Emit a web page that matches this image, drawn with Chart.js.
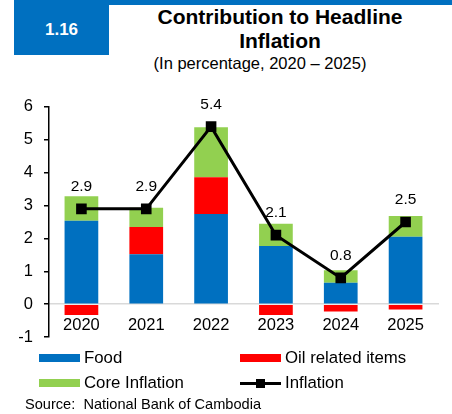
<!DOCTYPE html>
<html>
<head>
<meta charset="utf-8">
<script src="https://cdn.jsdelivr.net/npm/chart.js@4.4.1/dist/chart.umd.min.js"></script>
<style>
  html, body { margin: 0; padding: 0; background: #fff; }
  body { width: 452px; height: 414px; position: relative; overflow: hidden; font-family: "Liberation Sans", Arial, sans-serif; color: #000; }
  .top-stripe { position: absolute; left: 14px; top: 0; width: 438px; height: 5px; background: #0070C0; }
  .fig-no { position: absolute; left: 14px; top: 5px; width: 95px; height: 50px; background: #0070C0; color: #fff;
            font-weight: bold; font-size: 17px; display: flex; align-items: center; justify-content: center; }
  .title { position: absolute; left: 110px; width: 340px; top: 5px; text-align: center; font-weight: bold; font-size: 21px; line-height: 24px; }
  .subtitle { position: absolute; left: 60px; width: 400px; top: 54px; text-align: center; font-size: 16.5px; }
  .chart-wrap { position: absolute; left: 0; top: 86px; width: 452px; height: 272px; }
  .legend { position: absolute; left: 0; top: 347px; width: 452px; font-size: 16.8px; }
  .item { position: absolute; height: 20px; display: flex; align-items: center; }
  .sw { width: 41px; height: 8px; margin-right: 4px; }
  .ln { width: 41px; height: 20px; margin-right: 4px; position: relative; }
  .ln::before { content: ""; position: absolute; left: 0; right: 0; top: 9px; height: 3px; background: #000; }
  .ln::after { content: ""; position: absolute; left: 16px; top: 6px; width: 9px; height: 9px; background: #000; }
  .source { position: absolute; left: 25px; top: 396px; font-size: 14.6px; white-space: pre; }
</style>
</head>
<body>
<div class="top-stripe"></div>
<div class="fig-no">1.16</div>
<div class="title">Contribution to Headline<br>Inflation</div>
<div class="subtitle">(In percentage, 2020 – 2025)</div>
<div class="chart-wrap"><canvas id="chart"></canvas></div>
<div class="legend">
  <div class="item" style="left:39px; top:1px;"><span class="sw" style="background:#0070C0"></span>Food</div>
  <div class="item" style="left:240px; top:1px;"><span class="sw" style="background:#FF0000"></span>Oil related items</div>
  <div class="item" style="left:39px; top:26px;"><span class="sw" style="background:#92D050"></span>Core Inflation</div>
  <div class="item" style="left:240px; top:26px;"><span class="ln"></span>Inflation</div>
</div>
<div class="source">Source:  National Bank of Cambodia</div>

<script>
const years = ['2020', '2021', '2022', '2023', '2024', '2025'];
const food = [2.54, 1.52, 2.74, 1.77, 0.65, 2.05];
const oil = [-0.33, 0.83, 1.12, -0.33, -0.22, -0.16];
const core = [0.74, 0.58, 1.52, 0.68, 0.38, 0.63];
const inflation = [2.9, 2.9, 5.4, 2.1, 0.8, 2.5];
const yTicks = [-1, 0, 1, 2, 3, 4, 5, 6];

// value labels above the inflation markers
const pointLabels = {
  id: 'pointLabels',
  afterDatasetsDraw(chart) {
    const meta = chart.getDatasetMeta(0);
    const ctx = chart.ctx;
    ctx.save();
    ctx.font = '15.5px "Liberation Sans", Arial, sans-serif';
    ctx.fillStyle = '#000';
    ctx.textAlign = 'center';
    ctx.textBaseline = 'middle';
    meta.data.forEach((pt, i) => {
      ctx.fillText(inflation[i].toFixed(1), pt.x, pt.y - 22);
    });
    ctx.restore();
  }
};

const barOpts = { stack: 'parts', order: 1, barPercentage: 0.52, categoryPercentage: 1, borderWidth: 0 };

new Chart(document.getElementById('chart'), {
  type: 'bar',
  data: {
    labels: years,
    datasets: [
      { type: 'line', label: 'Inflation', data: inflation, stack: 'total', order: 0,
        borderColor: '#000', backgroundColor: '#000', borderWidth: 3,
        pointStyle: 'rect', pointRadius: 7.5, pointBackgroundColor: '#000', pointBorderWidth: 0, tension: 0 },
      { label: 'Food', data: food, backgroundColor: '#0070C0', ...barOpts },
      { label: 'Oil related items', data: oil, backgroundColor: '#FF0000', ...barOpts },
      { label: 'Core Inflation', data: core, backgroundColor: '#92D050', ...barOpts },
    ],
  },
  options: {
    animation: false, responsive: true, maintainAspectRatio: false,
    layout: { padding: { top: 7, right: 14, bottom: 7, left: 0 } },
    plugins: { legend: { display: false }, tooltip: { enabled: false } },
    scales: {
      x: {
        position: { y: 0 },
        stacked: true,
        grid: { display: false },
        border: { color: '#d9d9d9', width: 1.5 },
        ticks: { color: '#000', font: { size: 16.5, family: '"Liberation Sans", Arial, sans-serif' }, padding: 3 },
      },
      y: {
        stacked: true,
        min: -1, max: 6,
        afterBuildTicks: scale => { scale.ticks = yTicks.map(v => ({ value: v })); },
        afterFit: scale => { scale.width = 49; },
        grid: { drawOnChartArea: false, drawTicks: true, tickLength: 5, color: '#000', lineWidth: 1.5 },
        border: { color: '#000', width: 1.5 },
        ticks: { color: '#000', font: { size: 16.5, family: '"Liberation Sans", Arial, sans-serif' }, padding: 11 },
      },
    },
  },
  plugins: [pointLabels],
});
</script>
</body>
</html>
